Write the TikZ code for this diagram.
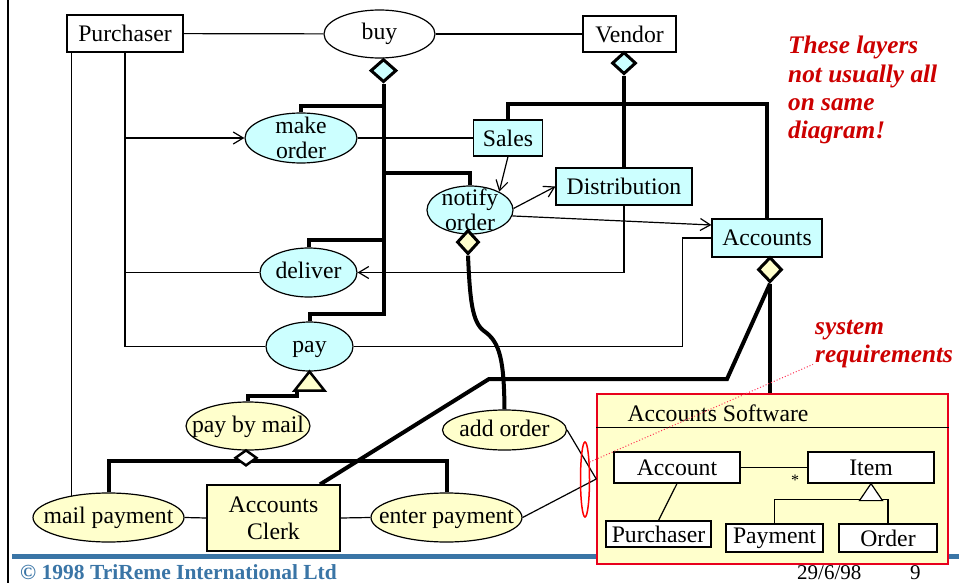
\documentclass[tikz,border=0pt]{standalone}
\usepackage{fontspec}
\setmainfont{Liberation Serif}
\usetikzlibrary{shapes.geometric,arrows.meta,calc}
\definecolor{cy}{HTML}{CCFFFF}
\definecolor{ye}{HTML}{FFFFCC}
\definecolor{rd}{HTML}{CC0000}
\definecolor{bx}{HTML}{E8001C}
\definecolor{fb}{HTML}{3A75A6}
\definecolor{dotred}{HTML}{FF3355}
\begin{document}
\begin{tikzpicture}[x=1pt,y=-1pt,
  every node/.style={font=\fontsize{23.7}{25}\selectfont, inner sep=0pt},
  ln/.style={line width=1.2pt},
  thk/.style={line width=4pt},
  box/.style={rectangle, draw, line width=1.2pt, fill=white},
  sbox/.style={rectangle, draw, line width=1.2pt, fill=white},
  uce/.style={ellipse, draw, line width=1.2pt, fill=cy},
  lab/.style={label={[text height=14pt, text depth=2pt]center:#1}},
  dia/.style={diamond, draw, line width=3pt, minimum width=26, minimum height=23},
  arr/.style={-{Straight Barb[length=10pt,width=12pt]}},
  note/.style={font=\fontsize{25.3}{28.3}\selectfont\bfseries\itshape, text=rd, align=left, anchor=north west}
]
\useasboundingbox (0,0) rectangle (959,583);

% frame and footer
\draw[line width=1.3pt] (8,0) -- (8,583);
\fill[fb] (12,553.5) rectangle (959,558.5);
\node[anchor=base west, font=\fontsize{21.5}{21.5}\selectfont\bfseries, text=fb] (cr) at (20,579) {© 1998 TriReme International Ltd};
\node[anchor=base west, font=\fontsize{21}{21}\selectfont] (dt) at (797,579) {29/6/98};
\node[anchor=base west, font=\fontsize{21}{21}\selectfont] (pg) at (910,579) {9};

% top row
\node[box, minimum width=116, minimum height=37] (pur) at (125,33.5) {Purchaser};
\node[uce, fill=white, minimum width=111, minimum height=48, lab=buy] (buy) at (379.5,34) {};
\node[box, minimum width=93, minimum height=36] (ven) at (629.5,34) {Vendor};

% business layer (cyan)
\node[uce, minimum width=112, minimum height=50, label={[align=center]center:make\\order}] (mo) at (301,138) {};
\node[box, fill=cy, minimum width=69, minimum height=36] (sales) at (508,138) {Sales};
\node[uce, minimum width=86, minimum height=48, label={[align=center]center:notify\\order}] (no) at (470,210) {};
\node[box, fill=cy, minimum width=136, minimum height=37] (dist) at (624,186.5) {Distribution};
\node[box, fill=cy, minimum width=110, minimum height=38] (acc) at (767,238) {Accounts};
\node[uce, minimum width=97, minimum height=49, lab=deliver] (dl) at (308.5,272.5) {};
\node[uce, minimum width=87, minimum height=49, lab=pay] (pay) at (309.5,346.5) {};

% yellow layer
\node[uce, fill=ye, minimum width=124, minimum height=48, lab=pay by mail] (pbm) at (248,426) {};
\node[uce, fill=ye, minimum width=124, minimum height=40, lab=add order] (ao) at (504.5,430) {};
\node[uce, fill=ye, minimum width=151, minimum height=49, lab=mail payment] (mp) at (108.5,517.5) {};
\node[box, fill=ye, minimum width=133, minimum height=66, align=center, font=\fontsize{23.7}{27}\selectfont] (clerk) at (273.5,518) {Accounts\\Clerk};
\node[uce, fill=ye, minimum width=151, minimum height=49, lab=enter payment] (ep) at (446.5,517.5) {};

% diamonds
\node[dia, fill=cy, anchor=north] (bd) at ([xshift=4,yshift=1]buy.south) {};
\node[dia, fill=cy, minimum width=24, minimum height=22, anchor=north] (vd) at ([yshift=2]dist.north |- ven.south) {};
\node[dia, fill=ye, minimum width=22, minimum height=24, anchor=north] (nd) at ([xshift=-2,yshift=6]no.south) {};
\node[dia, fill=ye, minimum width=24, minimum height=25, anchor=north] (ad) at ([xshift=3,yshift=2]acc.south) {};

% thin connectors
\draw[ln] (pur) -- (buy);
\draw[ln] (buy) -- (ven);
\draw[ln] (mp.149) -- (mp.149 |- pur.south);
\draw[ln] (pur.south) |- (pay.west);
\draw[ln,arr] (pur.south |- mo.west) -- (mo.west);
\draw[ln] (pur.south |- dl.west) -- (dl.west);
\draw[ln] (mo.east) -- (sales.west);
\draw[ln,arr] (sales.south) -- (no.32);
\draw[ln,arr] (no.2) -- (dist.west);
\draw[ln,arr] (no.-8) -- ([yshift=13]acc.west);
\draw[ln,arr] (dist.south) |- (dl.east);
\draw[ln] (acc.west) -- ++(-29,0) |- (pay.east);
\draw[ln] (mp.east) -- (clerk.west);
\draw[ln] (clerk.east) -- (ep.west);

% thick (aggregation) connectors
\draw[thk] (pay.north) -- ++(0,-7) -| (bd.south);
\draw[thk] (dl.north) -- ++(0,-7) -| (bd.south);
\draw[thk] (mo.north) -- ++(0,-6) -| (bd.south);
\draw[thk] (no.north) -- ++(0,-12) -| (bd.south);
\draw[thk] (vd.south) -- (dist.north);
\draw[thk] (sales.north) -- ++(0,-15) -| (acc.north);
\draw[thk] ([xshift=46.5]clerk.north) -- (489,379) -- (727,379) -- (ad.south);
\draw[thk] (nd.south) .. controls (470,300) and (472,322) .. (484,331) .. controls (500,342) and (504,360) .. (ao.north);
\draw[thk] (pbm.north) -- ++(0,-5) -| ($(pay.south)+(-13,19)$);
\draw[line width=2.5pt, fill=ye] (pay.south) -- ++(-15,19) -- ++(30,0) -- cycle;
\draw[thk] (mp.north) -- ++(0,-31) -| (ep.north);
\node[dia, fill=white, line width=2.5pt, minimum width=22, minimum height=16, anchor=north] (pd) at ([xshift=-2,yshift=2]pbm.south) {};

% accounts software
\node[draw=bx, line width=1.5pt, fill=ye, minimum width=351, minimum height=170] (asw) at (772.5,479) {};
\draw[thk] (ad.south) -- (ad.south |- asw.north);
\node (aswt) at (718,413) {Accounts Software};
\draw[ln] ([yshift=-34]asw.north west) -- ([yshift=-34]asw.north east);
\node[sbox, minimum width=126, minimum height=31] (acct) at (677,467.5) {Account};
\node[sbox, minimum width=126, minimum height=31] (item) at (871,467.5) {Item};
\node[sbox, minimum width=105, minimum height=26] (pur2) at (658.5,534) {Purchaser};
\node[sbox, minimum width=97, minimum height=28] (paym) at (774.5,538) {Payment};
\node[sbox, minimum width=98, minimum height=28] (ord) at (888,538) {Order};
\draw[ln] (acct) -- (item);
\node[font=\fontsize{16}{16}\selectfont] (star) at (795,480) {*};
\draw[ln] (acct.south) -- (pur2.north);
\draw[ln] (paym.north) -- ++(0,-24) -| (ord.north);
\draw[ln, fill=white] (item.south) -- ++(-11.5,17) -- ++(23,0) -- cycle;

% links to the software box
\draw[ln] (ao.east) -- (asw.west);
\draw[ln] (ep.east) -- (asw.west);
\node[draw=red, line width=1.5pt, ellipse, minimum width=9, minimum height=75] (mk) at (585,479.5) {};

% notes
\node[note] (nt) at (788,36) {These layers\\not usually all\\on same\\diagram!};
\node[note] (sr) at (815,320) {system\\requirements};
\draw[dotred, dotted, line width=1pt] (mk.75) -- ([xshift=-2,yshift=4]sr.south west);
\end{tikzpicture}
\end{document}
